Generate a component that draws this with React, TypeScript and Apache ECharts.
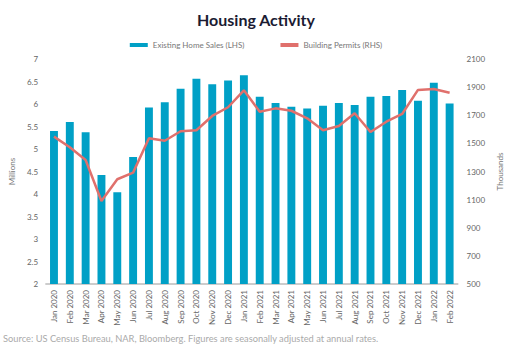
import React, { useEffect, useRef } from "react";
import * as echarts from "echarts";

const months = [
  "Jan 2020", "Feb 2020", "Mar 2020", "Apr 2020", "May 2020", "Jun 2020", "Jul 2020", "Aug 2020",
  "Sep 2020", "Oct 2020", "Nov 2020", "Dec 2020", "Jan 2021", "Feb 2021", "Mar 2021", "Apr 2021",
  "May 2021", "Jun 2021", "Jul 2021", "Aug 2021", "Sep 2021", "Oct 2021", "Nov 2021", "Dec 2021",
  "Jan 2022", "Feb 2022",
];
const homeSales = [
  5.4, 5.6, 5.37, 4.42, 4.04, 4.82, 5.92, 6.04, 6.34, 6.56, 6.44, 6.52, 6.64,
  6.16, 6.02, 5.94, 5.9, 5.96, 6.02, 5.98, 6.16, 6.18, 6.31, 6.07, 6.47, 6.01,
];
const permits = [
  1548, 1472, 1382, 1090, 1245, 1292, 1536, 1519, 1586, 1593, 1695, 1757, 1877,
  1725, 1749, 1732, 1678, 1593, 1624, 1714, 1581, 1654, 1709, 1880, 1887, 1860,
];

const FONT = "Lato, 'Noto Sans', sans-serif";

export default function App() {
  const ref = useRef<HTMLDivElement>(null);
  useEffect(() => {
    if (!ref.current) return;
    const chart = echarts.init(ref.current, undefined, { renderer: "svg" });
    chart.setOption({
      animation: false,
      textStyle: { fontFamily: FONT },
      title: {
        text: "Housing Activity",
        left: "center",
        top: 6,
        textStyle: { fontSize: 16, fontWeight: "bold", color: "#1b1b33", fontFamily: FONT },
      },
      legend: {
        top: 36,
        left: "center",
        itemGap: 36,
        itemWidth: 18,
        itemHeight: 4,
        textStyle: { fontSize: 8, color: "#777", fontFamily: FONT },
        data: [
          { name: "Existing Home Sales (LHS)", icon: "rect" },
          { name: "Building Permits (RHS)", icon: "rect" },
        ],
      },
      grid: { left: 43, right: 49, top: 59, bottom: 67 },
      xAxis: {
        type: "category",
        data: months,
        axisLine: { lineStyle: { color: "#cccccc", width: 2 } },
        axisTick: { show: false },
        axisLabel: { rotate: 90, fontSize: 8, color: "#666", interval: 0, margin: 6 },
      },
      yAxis: [
        {
          type: "value",
          min: 2,
          max: 7,
          interval: 0.5,
          name: "Millions",
          nameLocation: "middle",
          nameGap: 26,
          nameTextStyle: { fontSize: 8, color: "#777" },
          splitLine: { show: false },
          axisLine: { show: false },
          axisTick: { show: false },
          axisLabel: { fontSize: 8, color: "#666", margin: 8 },
        },
        {
          type: "value",
          min: 500,
          max: 2100,
          interval: 200,
          name: "Thousands",
          nameLocation: "middle",
          nameGap: 32,
          nameTextStyle: { fontSize: 8, color: "#777" },
          splitLine: { show: false },
          axisLine: { show: false },
          axisTick: { show: false },
          axisLabel: { fontSize: 8, color: "#666", margin: 9, formatter: (v: number) => String(v) },
        },
      ],
      series: [
        {
          name: "Existing Home Sales (LHS)",
          type: "bar",
          data: homeSales,
          barWidth: "50%",
          itemStyle: { color: "#00a0c6" },
          yAxisIndex: 0,
        },
        {
          name: "Building Permits (RHS)",
          type: "line",
          data: permits,
          yAxisIndex: 1,
          symbol: "none",
          lineStyle: { color: "#e0706c", width: 2.5 },
          itemStyle: { color: "#e0706c" },
        },
      ],
      graphic: [
        {
          type: "text",
          left: 3,
          top: 334,
          style: {
            text: "Source: US Census Bureau, NAR, Bloomberg. Figures are seasonally adjusted at annual rates.",
            fontSize: 9.3,
            fill: "#aaaaaa",
            fontFamily: FONT,
          },
        },
      ],
    });
    return () => chart.dispose();
  }, []);
  return <div ref={ref} style={{ width: 512, height: 351, position: "absolute", left: 0, top: 0 }} />;
}
